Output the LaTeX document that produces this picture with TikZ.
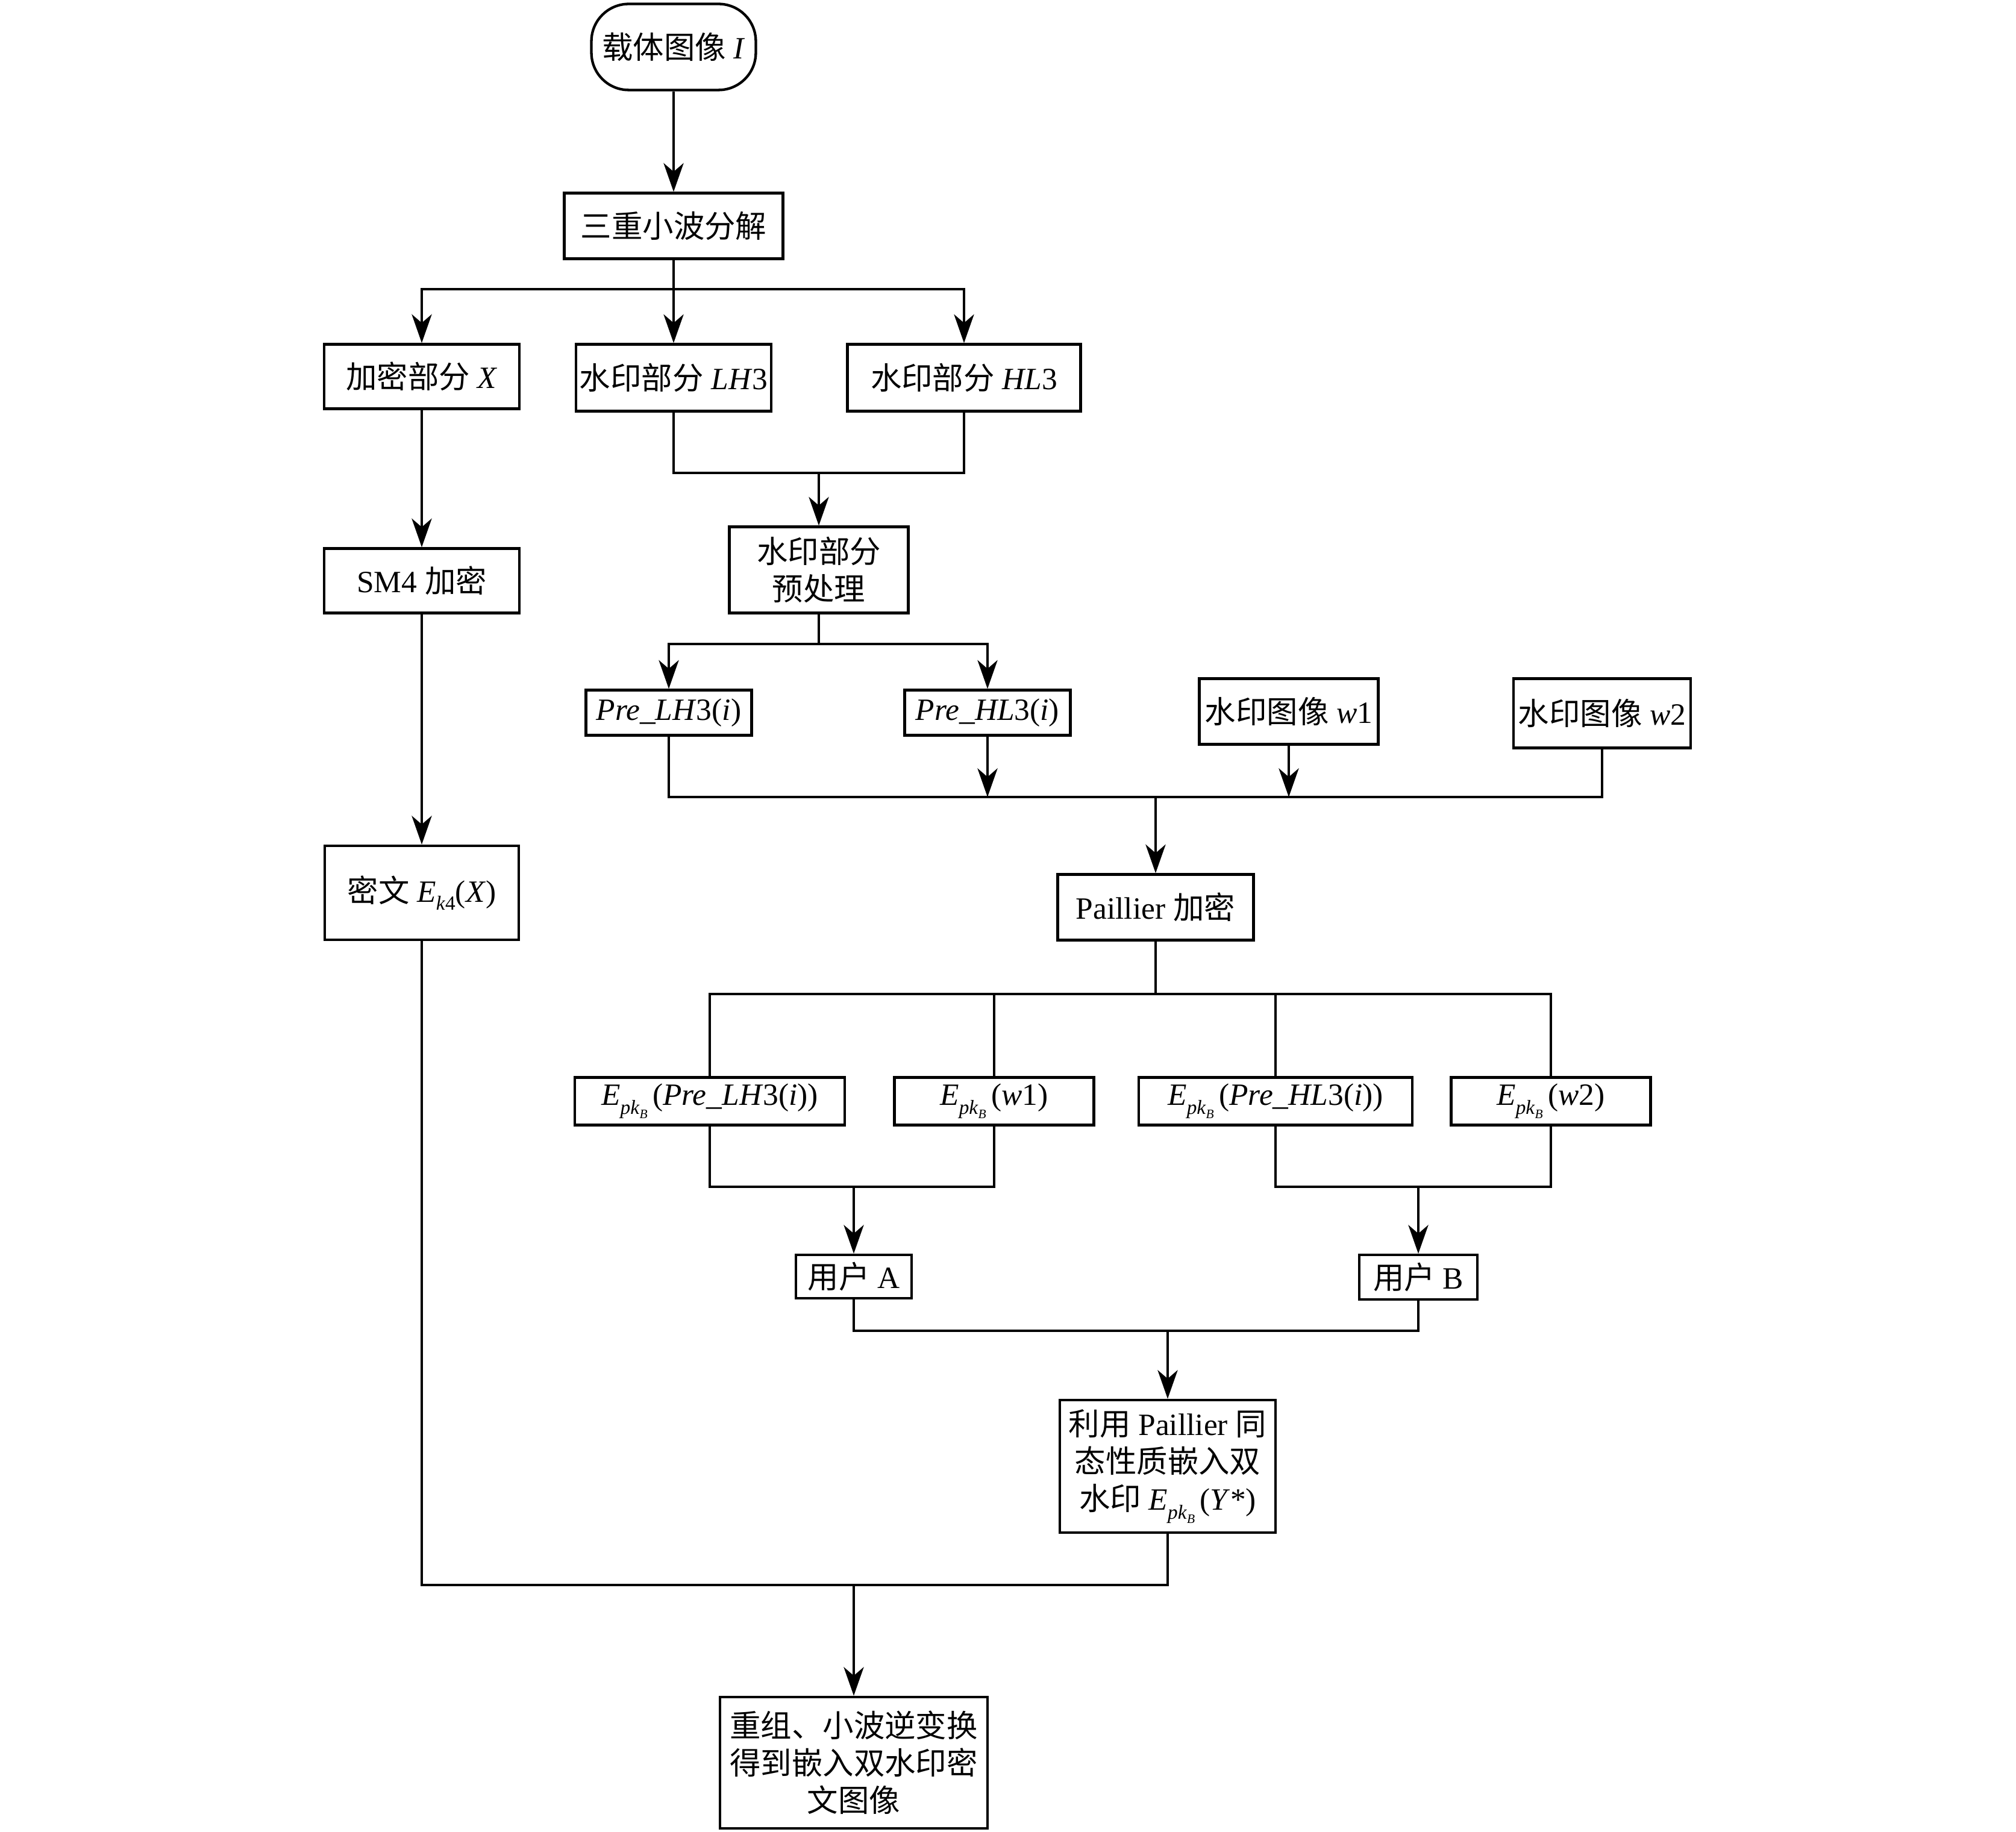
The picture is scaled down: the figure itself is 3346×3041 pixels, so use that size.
\documentclass[tikz,border=0pt]{standalone}
\usepackage{fontspec}
\setmainfont{Liberation Serif}
\newfontfamily\cjk{Noto Sans CJK SC}
\usetikzlibrary{arrows.meta}
\newcommand\zh[1]{{\cjk #1}}
\newcommand\Epk{\textit{E}\raisebox{-0.65ex}{\fontsize{7}{7}\selectfont\textit{pk}\raisebox{-0.45ex}{\fontsize{4.5}{5}\selectfont\textit{B}}}\,}
\begin{document}
\begin{tikzpicture}[x=0.21pt,y=-0.21pt,
  box/.style={draw,line width=0.9pt,inner sep=0pt,align=center,font=\fontsize{10.8}{13}\selectfont},
  conn/.style={line width=0.65pt},
  arr/.style={conn,-{Stealth[length=10pt,width=7pt,inset=3pt]}}]
\useasboundingbox (0,0) rectangle (3346,3041);
% nodes
\node[box,rounded corners=13pt,minimum width=57.3pt,minimum height=30pt] (start) at (1118,78) {\zh{载体图像} \textit{I}};
\node[box,minimum width=76.2pt,minimum height=22.9pt] (sc) at (1118,375) {\zh{三重小波分解}};
\node[box,minimum width=68pt,minimum height=22.5pt] (X) at (700,625) {\zh{加密部分} \textit{X}};
\node[box,minimum width=68pt,minimum height=23.3pt] (LH) at (1118,627) {\zh{水印部分} \textit{LH}3};
\node[box,minimum width=81.3pt,minimum height=23.3pt] (HL) at (1600,627) {\zh{水印部分} \textit{HL}3};
\node[box,minimum width=62.4pt,minimum height=30pt] (pre) at (1359,946) {\zh{水印部分}\\\zh{预处理}};
\node[box,minimum width=68pt,minimum height=22.5pt] (sm4) at (700,964) {SM4 \zh{加密}};
\node[box,minimum width=57.8pt,minimum height=15.75pt] (pLH) at (1110,1183) {\textit{Pre\_LH}3(\textit{i})};
\node[box,minimum width=57.8pt,minimum height=15.75pt] (pHL) at (1639,1183) {\textit{Pre\_HL}3(\textit{i})};
\node[box,minimum width=62.4pt,minimum height=22.9pt] (w1) at (2139,1181) {\zh{水印图像} \textit{w}1};
\node[box,minimum width=61.7pt,minimum height=24.2pt] (w2) at (2659,1184) {\zh{水印图像} \textit{w}2};
\node[box,minimum width=68.3pt,minimum height=22.9pt] (pai) at (1918,1506) {Paillier \zh{加密}};
\node[box,minimum width=67.6pt,minimum height=32.8pt] (ct) at (700,1482) {\zh{密文} \textit{E}\raisebox{-0.55ex}{\fontsize{7}{7}\selectfont\textit{k}4}(\textit{X})};
\node[box,minimum width=94.1pt,minimum height=16.6pt] (E1) at (1178,1828) {\Epk(\textit{Pre\_LH}3(\textit{i}))};
\node[box,minimum width=69.5pt,minimum height=16.6pt] (E2) at (1650,1828) {\Epk(\textit{w}1)};
\node[box,minimum width=95.3pt,minimum height=16.6pt] (E3) at (2117,1828) {\Epk(\textit{Pre\_HL}3(\textit{i}))};
\node[box,minimum width=69.5pt,minimum height=16.6pt] (E4) at (2574,1828) {\Epk(\textit{w}2)};
\node[box,minimum width=40.3pt,minimum height=15.1pt] (A) at (1417,2119) {\zh{用户} A};
\node[box,minimum width=41.2pt,minimum height=15.5pt] (B) at (2354,2120) {\zh{用户} B};
\node[box,minimum width=75.2pt,minimum height=46.2pt] (emb) at (1938,2434) {\zh{利用} Paillier \zh{同}\\\zh{态性质嵌入双}\\\zh{水印} \Epk(\textit{Y}*)};
\node[box,minimum width=93.2pt,minimum height=45.8pt] (fin) at (1417,2926) {\zh{重组、小波逆变换}\\\zh{得到嵌入双水印密}\\\zh{文图像}};
% junctions
\coordinate (j1) at (1118,480);
\coordinate (j2) at (1359,785);
\coordinate (j3) at (1359,1069);
\coordinate (j4) at (1918,1323);
\coordinate (j5) at (1918,1650);
\coordinate (j6) at (1417,1970);
\coordinate (j7) at (2354,1970);
\coordinate (j8) at (1938,2209);
\coordinate (j9) at (1417,2631);
% connectors
\draw[arr] (start) -- (sc);
\draw[conn] (sc) -- (j1);
\draw[arr] (j1) -| (X);
\draw[arr] (j1) -- (LH);
\draw[arr] (j1) -| (HL);
\draw[conn] (LH) |- (j2);
\draw[conn] (HL) |- (j2);
\draw[arr] (j2) -- (pre);
\draw[arr] (X) -- (sm4);
\draw[arr] (sm4) -- (ct);
\draw[conn] (pre) -- (j3);
\draw[arr] (j3) -| (pLH);
\draw[arr] (j3) -| (pHL);
\draw[conn] (pLH) |- (j4);
\draw[conn] (w2) |- (j4);
\draw[arr] (pHL) -- (pHL |- j4);
\draw[arr] (w1) -- (w1 |- j4);
\draw[arr] (j4) -- (pai);
\draw[conn] (pai) -- (j5);
\draw[conn] (E1) |- (j5) -| (E4);
\draw[conn] (E2) -- (E2 |- j5);
\draw[conn] (E3) -- (E3 |- j5);
\draw[conn] (E1) |- (j6) -| (E2);
\draw[arr] (j6) -- (A);
\draw[conn] (E3) |- (j7) -| (E4);
\draw[arr] (j7) -- (B);
\draw[conn] (A) |- (j8) -| (B);
\draw[arr] (j8) -- (emb);
\draw[conn] (ct) |- (j9) -| (emb);
\draw[arr] (j9) -- (fin);
\end{tikzpicture}
\end{document}
